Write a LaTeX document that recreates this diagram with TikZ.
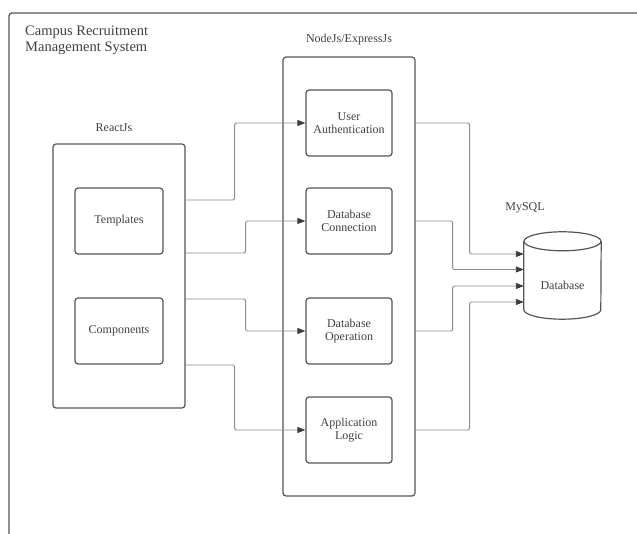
\documentclass[tikz,border=0pt]{standalone}
\usepackage{fontspec}
\setmainfont{Liberation Serif}
\usetikzlibrary{arrows.meta}
\definecolor{boxline}{HTML}{555555}
\definecolor{wire}{HTML}{8C8C8C}
\definecolor{tipc}{HTML}{3C3C3C}
\definecolor{ink}{HTML}{404040}

\begin{document}
\begin{tikzpicture}[x=1pt,y=1pt,
  frame/.style={draw=boxline, line width=1.3pt, rounded corners=3pt},
  group/.style={draw=boxline, line width=1.2pt, rounded corners=3pt, minimum width=132pt, inner sep=0pt},
  part/.style={draw=boxline, line width=1.2pt, rounded corners=3pt, minimum width=86pt, minimum height=66pt,
    align=center, font=\fontsize{12}{13.5}\selectfont, text=ink, inner sep=0pt},
  caption/.style={font=\fontsize{12}{14}\selectfont, text=ink, inner sep=0pt},
  link/.style={draw=wire, line width=0.9pt, rounded corners=2pt, -{Triangle[length=8pt,width=6pt,color=tipc]}},
  vessel/.style={draw=boxline, line width=1.2pt}
]
\useasboundingbox (0,0) rectangle (637,534);

% system frame, running off the page to the right and bottom
\begin{scope}
  \clip (0,0) rectangle (637,534);
  \draw[frame] (9,-20) -- (9,521) -- (660,521);
\end{scope}
\node[anchor=north west, inner sep=0pt, align=left, font=\fontsize{14.5}{16}\selectfont, text=ink]
  (title) at (25,508) {Campus Recruitment\\Management System};

% front end
\node[group, minimum height=264pt] (react) at (119,258) {};
\node[caption] (reactlbl) at (114,406) {ReactJs};
\node[part, minimum width=88pt] (tpl) at (119,313) {Templates};
\node[part, minimum width=88pt] (cmp) at (119,203) {Components};

% back end
\node[group, minimum height=439pt] (js) at (349,257.5) {};
\node[caption] (jslbl) at (349,494) {NodeJs/ExpressJs};
\node[part] (ua) at (349,411) {User\\Authentication};
\node[part] (dbc) at (349,313) {Database\\Connection};
\node[part] (dbo) at (349,203) {Database\\Operation};
\node[part] (al) at (349,104) {Application\\Logic};

% database
\node[minimum width=77pt, minimum height=68pt, inner sep=0pt, font=\fontsize{12}{14}\selectfont, text=ink]
  (db) at (562.5,249) {Database};
\node[caption] (dblbl) at (525,326) {MySQL};
\draw[vessel] ([yshift=9.5pt]db.north) ellipse [x radius=38.5, y radius=9.5];
\draw[vessel] ([yshift=9.5pt]db.north west) -- ([yshift=9.5pt]db.south west)
  arc[start angle=180, end angle=360, x radius=38.5, y radius=9.5] -- ([yshift=9.5pt]db.north east);

% front end to back end
\coordinate (r1) at ([yshift=76pt]react.east);
\coordinate (r2) at ([yshift=23pt]react.east);
\coordinate (r3) at ([yshift=-23pt]react.east);
\coordinate (r4) at ([yshift=-89pt]react.east);
\draw[link] (r1) -- ++(49,0) |- (ua.west);
\draw[link] (r2) -- ++(60,0) |- (dbc.west);
\draw[link] (r3) -- ++(60,0) |- (dbo.west);
\draw[link] (r4) -- ++(49,0) |- (al.west);

% back end to database
\coordinate (d1) at ([yshift=31pt]db.west);
\coordinate (d2) at ([yshift=15.5pt]db.west);
\coordinate (d3) at ([yshift=-1pt]db.west);
\coordinate (d4) at ([yshift=-17pt]db.west);
\draw[link] (js.east |- ua) -- ++(54,0) |- (d1);
\draw[link] (js.east |- dbc) -- ++(37,0) |- (d2);
\draw[link] (js.east |- dbo) -- ++(37,0) |- (d3);
\draw[link] (js.east |- al) -- ++(54,0) |- (d4);
\end{tikzpicture}
\end{document}
